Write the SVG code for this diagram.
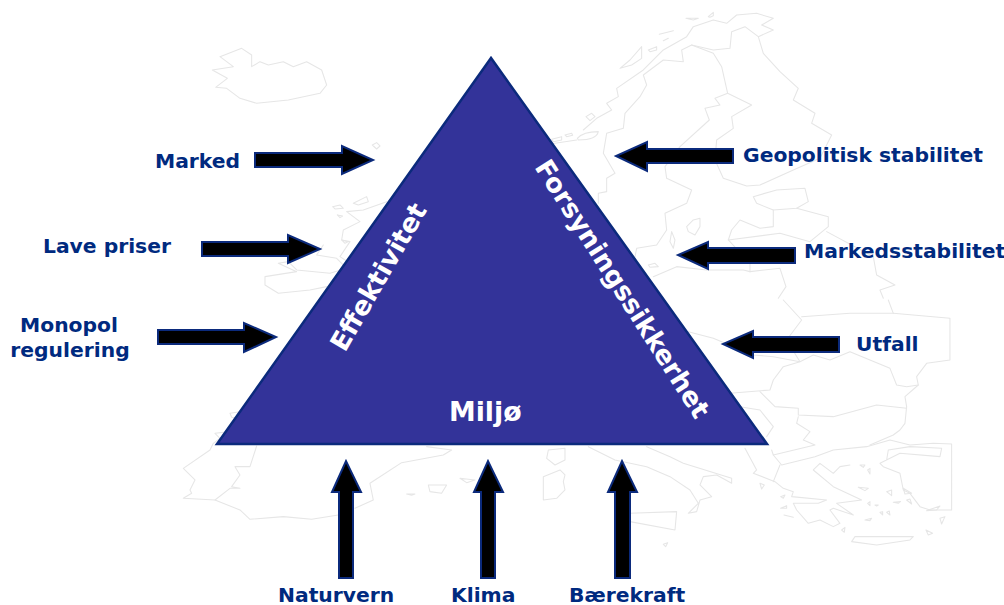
<svg xmlns="http://www.w3.org/2000/svg" width="1004" height="605" viewBox="0 0 1004 605">
<style>
.map path{fill:none;stroke:#e6e6e6;stroke-width:3.2;stroke-linejoin:round;stroke-linecap:round}
.arrow{fill:#000;stroke:#0b2a7c;stroke-width:2}
.lbl{font-family:"DejaVu Sans",Verdana,sans-serif;font-weight:700;font-size:20.3px;fill:#002a7f}
.tri{font-family:"DejaVu Sans",Verdana,sans-serif;font-weight:700;font-size:26.3px;fill:#fff}
</style>
<rect width="1004" height="605" fill="#fff"/>
<g id="map" class="map">
<g transform="translate(150,10) scale(.3333)">
<path d="M210,140L275,115L305,135L305,170L330,155L355,165L400,155L430,170L470,155L515,180L530,225L510,250L415,270L320,280L270,265L230,235L197,232L232,205L187,180L250,170Z"/>
<path d="M667,405L680,398L690,408L680,417Z"/>
<path d="M610,580L650,560L655,575L625,585Z"/>
<path d="M548,590L570,585L580,595L555,597Z"/>
<path d="M562,615L578,618L570,623Z"/>
<path d="M710,575L640,600L590,605L630,635L580,660L575,690L600,695L570,740L600,760"/>
<path d="M575,690L595,695L585,700Z"/>
<path d="M520,705L500,735L560,745L590,775L540,790L440,780L415,755L385,760L440,785L345,800L345,825L385,850L480,840L530,830"/>
</g>
<g transform="translate(500,0) scale(.3333)">
<path d="M150,432L230,420M232,415Q250,395 295,395Q290,420 235,420Z"/>
<path d="M195,405L215,400L218,406L200,410Z"/>
<path d="M155,418L185,410L185,420L160,425Z"/>
<path d="M258,350L275,340L285,350L270,362Z"/>
<path d="M360,205L390,180L425,140L425,175L395,195Z"/>
<path d="M445,150L470,140L470,150L450,155Z"/>
<path d="M478,103L520,92M490,122L505,115"/>
<path d="M558,55L595,55L580,60Z"/>
<path d="M625,50L640,37L640,47L630,52Z"/>
<path d="M250,390L290,355L335,330L320,310L355,290L350,265L430,210L490,150L560,110L580,80L640,60L680,70L710,45L770,40L820,55L785,75L820,90L775,110L735,80L695,95L690,145L640,150L575,135L545,150L550,185L490,180L430,225L440,255L420,290L375,340L370,385L320,400L310,460L345,520L320,535L320,575L295,580L295,610"/>
<path d="M575,135L640,160L665,200L683,280L645,295L660,315L615,325L628,360L540,440L495,500L500,535L575,570L560,610L495,640L500,690L470,735L410,745L405,770"/>
<path d="M775,110L790,160L840,215L895,265L880,300L945,340L935,370L995,405L960,475L880,510L780,555L740,558L670,535L645,480L650,420L700,385L695,350L755,315L683,280"/>
<path d="M560,680L580,660L600,655L600,680L585,705L565,695Z"/>
<path d="M515,695L525,720L520,745L510,725Z"/>
<path d="M445,795L465,790L475,800L450,802Z"/>
<path d="M760,590L830,570L915,565L925,605L890,625L820,630L770,610Z"/>
<path d="M820,630L820,680L780,685L720,660L695,690L685,720L840,700L930,725L985,680L985,650L890,625"/>
<path d="M460,830L530,800L620,810L730,810L750,815L840,805L858,860L835,895"/>
<path d="M685,720L750,790L750,815"/>
<path d="M980,695L1120,770L1130,825L1185,855L1140,870L1150,895"/>
</g>
<g transform="translate(500,300) scale(.3333)">
<path d="M850,0L905,60L860,120L900,185M905,50L1050,40L1180,40L1350,55L1350,180L1280,190L1250,230L1255,255L1220,260L1190,255L1170,205L1050,155L990,180L940,165L900,185L820,170L760,165L640,115L565,95"/>
<path d="M1165,0L1180,40M900,185L850,200L820,240L810,270L690,280"/>
<path d="M1255,255L1215,290L1220,320L1215,370L1200,390L1180,405L1110,435"/>
<path d="M780,275L825,320L895,325L895,345L1000,350L1130,315L1220,325"/>
<path d="M895,350L890,370L930,395L910,420L945,435L820,465L815,450"/>
<path d="M720,320L780,330L820,380L800,410"/>
<path d="M735,445L770,510L760,520L825,545L850,565L880,575L875,590L980,600L955,610L880,610L890,630L925,670L960,660L1000,680L1020,670L990,630L1000,625L1060,645L1010,610L1085,600L1000,560L940,510L960,490L1000,520L1020,500L1050,495"/>
<path d="M840,495L820,545M820,465L845,495L945,470L1000,450L1100,440L1170,420L1230,435L1300,430L1355,432L1355,630L1290,630L1260,620L1230,580L1210,570L1200,520L1150,500L1140,490L1200,460L1320,470L1325,445L1230,440L1165,450L1160,480"/>
<path d="M1055,725L1065,710L1190,710L1240,710L1230,720L1130,735Z"/>
<path d="M265,440L345,480L440,500L510,530L570,570L595,610L565,640L590,635L600,600L635,590L600,555L610,530L650,525L695,550L695,535L550,490L510,470L440,440"/>
<path d="M390,640L530,635L525,690L390,665"/>
<path d="M145,450L195,445L195,480L165,495L140,475Z"/>
<path d="M130,530L180,510L195,525L190,545L195,570L170,595L130,600Z"/>
<path d="M490,733L503,728L497,740Z"/>
<path d="M780,550L793,555L785,567Z"/>
<path d="M842,590L855,585L850,595Z"/>
<path d="M842,625L860,617L860,625Z"/>
<path d="M852,645L880,652"/>
<path d="M1025,690L1035,682L1033,697Z"/>
<path d="M1095,660L1115,655L1110,662Z"/>
<path d="M1075,562L1105,565L1095,572Z"/>
<path d="M1160,575L1175,570L1175,587Z"/>
<path d="M1180,607L1202,605L1195,610Z"/>
<path d="M1220,600L1230,597L1235,612Z"/>
<path d="M1103,610L1110,605L1110,617Z"/>
<path d="M1125,615L1135,615L1130,618Z"/>
<path d="M1140,637L1148,635L1148,645Z"/>
<path d="M1160,637L1168,633L1170,645Z"/>
<path d="M1080,495L1095,495L1090,502Z"/>
<path d="M1103,510L1110,505L1110,522Z"/>
<path d="M1210,565L1235,580L1215,582Z"/>
<path d="M1280,632L1320,618L1310,630Z"/>
<path d="M1320,655L1335,650L1325,672Z"/>
<path d="M1278,690L1298,700L1285,705Z"/>
</g>
<g transform="translate(0,300) scale(.3333)">
<path d="M720,335L690,340L695,352L710,355"/>
<path d="M690,395L645,400L660,415L640,430L630,450L550,505L585,540L570,570L575,580L550,595L645,600L720,630L750,658L850,650L935,658L1015,645"/>
<path d="M1065,625L1120,600L1110,550L1205,488L1330,465L1355,450L1280,440"/>
<path d="M645,600L690,565L720,565L695,560L720,525L705,500L750,500L770,438"/>
<path d="M1285,555L1340,555L1325,580L1290,575Z"/>
<path d="M1380,535L1425,540L1400,548Z"/>
<path d="M1220,582L1245,582L1235,586Z"/>
</g>
</g>
<g id="triangle">
<polygon points="491,58 217,444 767,444" fill="#333399" stroke="#0b2a7c" stroke-width="2.5"/>
<text class="tri" transform="translate(345,353) rotate(-60)">Effektivitet</text>
<text class="tri" transform="translate(534,167) rotate(57.5)">Forsyningssikkerhet</text>
<text class="tri" x="449" y="421" style="font-size:26.8px">Miljø</text>
</g>
<g id="connectors">
<polygon class="arrow" points="255,153 342,153 342,146 373,160 342,174 342,167 255,167"/>
<polygon class="arrow" points="202,242 288,242 288,235 320,249 288,263 288,256 202,256"/>
<polygon class="arrow" points="158,330 244,330 244,323 276,337 244,352 244,344 158,344"/>
<polygon class="arrow" points="733,149 647,149 647,142 616,156 647,171 647,163 733,163"/>
<polygon class="arrow" points="795,248 708,248 708,242 678,255 708,269 708,263 795,263"/>
<polygon class="arrow" points="839,337 753,337 753,331 723,344 753,358 753,352 839,352"/>
<polygon class="arrow" points="339,578 339,492 332,492 346,461 361,492 353,492 353,578"/>
<polygon class="arrow" points="481,578 481,492 474,492 488,461 503,492 495,492 495,578"/>
<polygon class="arrow" points="615,578 615,492 608,492 622,461 637,492 630,492 630,578"/>
</g>
<g id="labels">
<text class="lbl" x="155" y="168">Marked</text>
<text class="lbl" x="43" y="253">Lave priser</text>
<text class="lbl" x="69" y="332" text-anchor="middle">Monopol</text>
<text class="lbl" x="70" y="357" text-anchor="middle">regulering</text>
<text class="lbl" x="743" y="162">Geopolitisk stabilitet</text>
<text class="lbl" x="804" y="258">Markedsstabilitet</text>
<text class="lbl" x="856" y="351">Utfall</text>
<text class="lbl" x="278" y="602">Naturvern</text>
<text class="lbl" x="451" y="602">Klima</text>
<text class="lbl" x="569" y="602">Bærekraft</text>
</g>
</svg>
